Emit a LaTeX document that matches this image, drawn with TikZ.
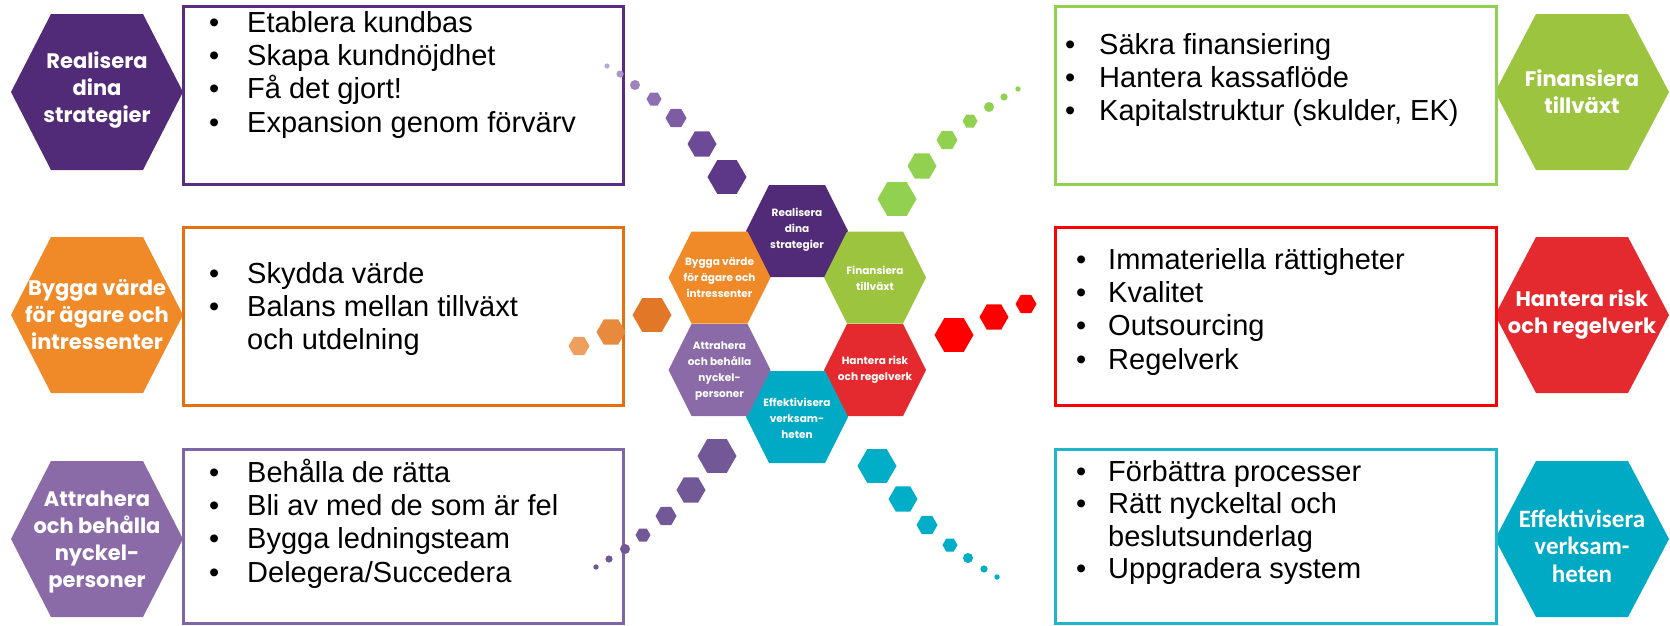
\documentclass[tikz,border=0pt]{standalone}
\usepackage{fontspec}
\setmainfont{Liberation Sans}
\newfontfamily\hexfont{Poppins}
\newfontfamily\calfont{Carlito}
\definecolor{purpD}{HTML}{512A78}
\definecolor{purpBox}{HTML}{5A2D82}
\definecolor{orangeHex}{HTML}{F08A28}
\definecolor{orangeBox}{HTML}{E4700E}
\definecolor{lpurpHex}{HTML}{8A6BA8}
\definecolor{lpurpBox}{HTML}{7E65A8}
\definecolor{lpurpDot}{HTML}{725896}
\definecolor{greenHex}{HTML}{9CC43E}
\definecolor{greenBox}{HTML}{92D050}
\definecolor{redHex}{HTML}{E52A2F}
\definecolor{redBox}{HTML}{FF0000}
\definecolor{tealHex}{HTML}{00A9C4}
\definecolor{tealBox}{HTML}{1FB5CA}
\definecolor{tealDot}{HTML}{00AEC8}
\definecolor{pt1}{HTML}{BCA9D3}
\definecolor{pt2}{HTML}{AE98C9}
\definecolor{pt3}{HTML}{9E84BE}
\definecolor{pt4}{HTML}{8E6FB1}
\definecolor{pt5}{HTML}{7D5CA3}
\definecolor{pt6}{HTML}{6D4A97}
\definecolor{pt7}{HTML}{5E3888}
\definecolor{or1}{HTML}{EE9F5E}
\definecolor{or2}{HTML}{E88A3E}
\definecolor{or3}{HTML}{E27727}
\newcommand\hexg[6]{\fill[#6] (#1,#2) +({-(#3)},0) -- +({-(#4)},{-(#5)}) -- +({#4},{-(#5)}) -- +({#3},0) -- +({#4},{#5}) -- +({-(#4)},{#5}) -- cycle;}
\newcommand\rhex[4]{\hexg{#1}{#2}{#3}{0.5*#3}{0.866*#3}{#4}}
\newcommand\bitem[5]{\node[bl] (#1) at (#2,#3) {\makebox[#4pt][l]{•}#5};}
\tikzset{
  boxline/.style={line width=3pt},
  bl/.style={anchor=base west, inner sep=0pt, font=\fontsize{29}{33}\selectfont},
  bigtxt/.style={text=white, align=center, inner sep=0pt, font=\hexfont\bfseries\fontsize{21}{27}\selectfont},
  caltxt/.style={text=white, align=center, inner sep=0pt, font=\calfont\bfseries\fontsize{25}{27.5}\selectfont},
  smalltxt/.style={text=white, align=center, inner sep=0pt, font=\hexfont\bfseries\fontsize{10.5}{16}\selectfont},
}
\begin{document}
\begin{tikzpicture}[x=1pt,y=-1pt]
\useasboundingbox (0,0) rectangle (1670,625);

% side hexagons
\hexg{97}{92}{86}{46}{78}{purpD}
\hexg{97}{315}{86}{46}{78}{orangeHex}
\hexg{97}{539}{86}{46}{78}{lpurpHex}
\hexg{1582}{92}{87}{46}{78}{greenHex}
\hexg{1582}{315}{87}{46}{78}{redHex}
\hexg{1582}{539}{87}{46}{78}{tealHex}
\node[bigtxt] (hTL) at (97,90) {Realisera\\dina\\strategier};
\node[bigtxt] (hML) at (97,315) {Bygga värde\\för ägare och\\intressenter};
\node[bigtxt] (hBL) at (97,542) {Attrahera\\och behålla\\nyckel-\\personer};
\node[bigtxt] (hTR) at (1582,92) {Finansiera\\tillväxt};
\node[bigtxt] (hMR) at (1582,314) {Hantera risk\\och regelverk};
\node[caltxt] (hBR) at (1582,546) {Effektivisera\\verksam-\\heten};

% boxes
\draw[boxline, purpBox] (183,6) rectangle (623,184);
\draw[boxline, orangeBox] (183,227) rectangle (623,405);
\draw[boxline, lpurpBox] (183,449) rectangle (623,623.5);
\draw[boxline, greenBox] (1055,6) rectangle (1496,184);
\draw[boxline, redBox] (1055,227) rectangle (1496,405);
\draw[boxline, tealBox] (1055,449) rectangle (1496,623.5);

% box texts
\bitem{tl1}{209}{32}{38}{Etablera kundbas}
\bitem{tl2}{209}{65.4}{38}{Skapa kundnöjdhet}
\bitem{tl3}{209}{98.8}{38}{Få det gjort!}
\bitem{tl4}{209}{132.2}{38}{Expansion genom förvärv}
\bitem{ml1}{209}{283}{38}{Skydda värde}
\bitem{ml2}{209}{316.4}{38}{Balans mellan tillväxt}
\node[bl] (ml3) at (247,349.8) {och utdelning};
\bitem{bl1}{209}{482}{38}{Behålla de rätta}
\bitem{bl2}{209}{515.4}{38}{Bli av med de som är fel}
\bitem{bl3}{209}{548.8}{38}{Bygga ledningsteam}
\bitem{bl4}{209}{582.2}{38}{Delegera/Succedera}
\bitem{tr1}{1065}{54}{34}{Säkra finansiering}
\bitem{tr2}{1065}{87.4}{34}{Hantera kassaflöde}
\bitem{tr3}{1065}{120.8}{34}{Kapitalstruktur (skulder, EK)}
\bitem{mr1}{1076}{269}{32}{Immateriella rättigheter}
\bitem{mr2}{1076}{302.4}{32}{Kvalitet}
\bitem{mr3}{1076}{335.8}{32}{Outsourcing}
\bitem{mr4}{1076}{369.2}{32}{Regelverk}
\bitem{br1}{1076}{481}{32}{Förbättra processer}
\bitem{br2}{1076}{513.5}{32}{Rätt nyckeltal och}
\node[bl] (br3) at (1108,546) {beslutsunderlag};
\bitem{br4}{1076}{578.5}{32}{Uppgradera system}

% centre ring
\hexg{797}{231}{51}{28}{46}{purpD}
\hexg{875}{277.5}{51}{28}{46}{greenHex}
\hexg{875}{370}{51}{28}{46}{redHex}
\hexg{797}{417}{51}{28}{46}{tealHex}
\hexg{719.5}{370}{51}{28}{46}{lpurpHex}
\hexg{719.5}{277.5}{51}{28}{46}{orangeHex}
\node[smalltxt] (cTop) at (797,230) {Realisera\\dina\\strategier};
\node[smalltxt] (cGreen) at (875,278) {Finansiera\\tillväxt};
\node[smalltxt] (cRed) at (875,370) {Hantera risk\\och regelverk};
\node[smalltxt] (cTeal) at (797,418) {Effektivisera\\verksam-\\heten};
\node[smalltxt] (cPurp) at (719.5,371) {Attrahera\\och behålla\\nyckel-\\personer};
\node[smalltxt] (cOrange) at (719.5,278) {Bygga värde\\för ägare och\\intressenter};

% trail: top-left purple
\fill[pt1] (607,66) circle (2.6pt);
\fill[pt2] (620,74) circle (3.6pt);
\fill[pt3] (635,85) circle (5pt);
\rhex{654}{99}{7.5}{pt4}
\rhex{676}{118}{10.5}{pt5}
\rhex{702}{144}{14.5}{pt6}
\rhex{727}{177}{19.5}{pt7}
% trail: top-right green
\fill[greenBox] (1018,89) circle (2.7pt);
\fill[greenBox] (1004,97) circle (3.6pt);
\fill[greenBox] (989,107) circle (5pt);
\rhex{970}{121}{7.5}{greenBox}
\rhex{947}{140}{10.5}{greenBox}
\rhex{922}{166}{14.5}{greenBox}
\rhex{897}{199}{19.5}{greenBox}
% trail: bottom-left purple
\fill[lpurpDot] (596,567) circle (2.7pt);
\fill[lpurpDot] (609,559) circle (3.6pt);
\fill[lpurpDot] (625,549) circle (5pt);
\rhex{643}{535}{7.5}{lpurpDot}
\rhex{666}{516}{10.5}{lpurpDot}
\rhex{691}{490}{14.5}{lpurpDot}
\rhex{717}{456}{19.5}{lpurpDot}
% trail: bottom-right teal
\rhex{877}{466}{19.5}{tealDot}
\rhex{903}{499}{14.5}{tealDot}
\rhex{927}{525}{10.5}{tealDot}
\rhex{950}{545}{7.5}{tealDot}
\fill[tealDot] (968,558) circle (5pt);
\fill[tealDot] (984,569) circle (3.6pt);
\fill[tealDot] (997,577) circle (2.7pt);
% trail: orange
\rhex{579}{346}{10.5}{or1}
\rhex{611}{332}{14.5}{or2}
\rhex{652}{315}{19.5}{or3}
% trail: red
\rhex{954}{335}{19.5}{redBox}
\rhex{994}{317}{14.5}{redBox}
\rhex{1026}{304}{10.5}{redBox}
\end{tikzpicture}
\end{document}
